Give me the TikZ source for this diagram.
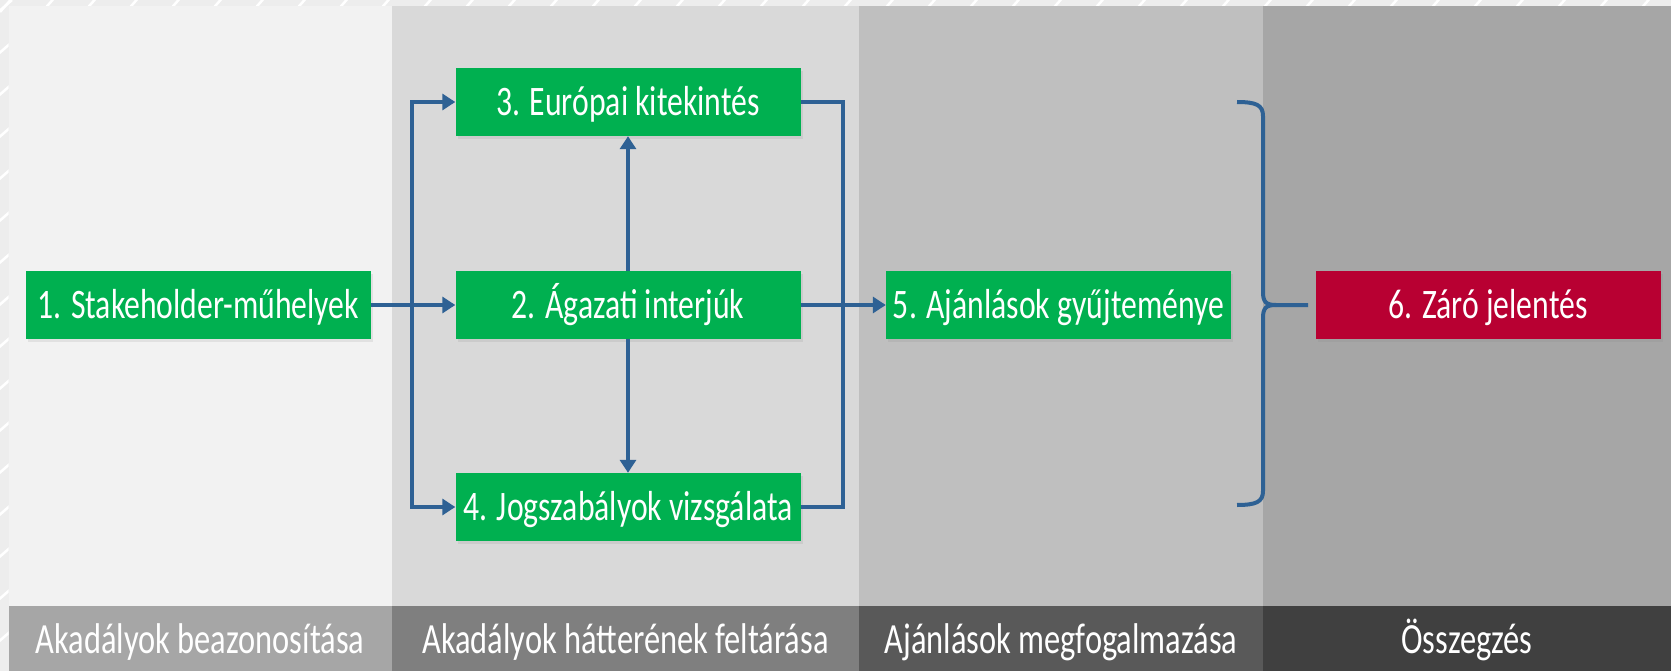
\documentclass[tikz,border=0pt]{standalone}
\usepackage{fontspec}
\setmainfont{Carlito}[FakeStretch=0.755]
\usetikzlibrary{arrows.meta,shadows}
\definecolor{bgout}{HTML}{EDEDED}
\definecolor{pA}{HTML}{F2F2F2}
\definecolor{pB}{HTML}{D9D9D9}
\definecolor{pC}{HTML}{BFBFBF}
\definecolor{pD}{HTML}{A6A6A6}
\definecolor{bA}{HTML}{A6A6A6}
\definecolor{bB}{HTML}{7F7F7F}
\definecolor{bC}{HTML}{595959}
\definecolor{bD}{HTML}{404040}
\definecolor{gbox}{HTML}{00B050}
\definecolor{rbox}{HTML}{B80032}
\definecolor{conncol}{HTML}{2E6194}
\tikzset{
  stage/.style={fill=gbox, text=white, minimum width=345pt, minimum height=68pt, inner sep=0pt,
    font=\fontsize{42}{50}\selectfont, text height=26.5pt, text depth=0pt,
    drop shadow={opacity=0.15, shadow xshift=2pt, shadow yshift=-3pt}},
  final/.style={stage, fill=rbox},
  barlabel/.style={text=white, font=\fontsize{43}{50}\selectfont, inner sep=0pt,
    text height=27pt, text depth=0pt},
  conn/.style={draw=conncol, line width=4pt},
  arr/.style={conn, -{Triangle[length=13pt,width=16pt]}}
}
\begin{document}
\begin{tikzpicture}[x=1pt,y=-1pt]
\useasboundingbox (0,0) rectangle (1671,671);
% outer hatched border
\fill[bgout] (0,0) rectangle (1671,671);
\begin{scope}
  \clip (0,0) rectangle (1671,6) (0,0) rectangle (8.5,671);
  \foreach \i in {0,42,...,1700} \draw[white, line width=2.5pt] (\i,12) -- (\i+14,-4);
  \foreach \j in {0,42,...,700} \draw[white, line width=2.5pt] (-4,\j+14) -- (12,\j);
\end{scope}
% panels
\fill[pA] (8.5,6) rectangle (392,606);
\fill[pB] (392,6) rectangle (859,606);
\fill[pC] (859,6) rectangle (1263,606);
\fill[pD] (1263,6) rectangle (1671,606);
% bottom bars
\fill[bA] (8.5,606) rectangle (392,671);
\fill[bB] (392,606) rectangle (859,671);
\fill[bC] (859,606) rectangle (1263,671);
\fill[bD] (1263,606) rectangle (1671,671);
\node[barlabel] (l1) at (200,639.6) {Akadályok beazonosítása};
\node[barlabel] (l2) at (625.5,639.6) {Akadályok hátterének feltárása};
\node[barlabel] (l3) at (1061,639.6) {Ajánlások megfogalmazása};
\node[barlabel] (l4) at (1467,639.6) {Összegzés};
% boxes
\node[stage] (b1) at (198.3,305) {1. Stakeholder-műhelyek};
\node[stage] (b2) at (628,305) {2. Ágazati interjúk};
\node[stage] (b3) at (628,102) {3. Európai kitekintés};
\node[stage] (b4) at (628,507) {4. Jogszabályok vizsgálata};
\node[stage] (b5) at (1058.5,305) {5. Ajánlások gyűjteménye};
\node[final] (b6) at (1488,305) {6. Záró jelentés};
% connectors
\coordinate (sx) at (412,0);
\coordinate (rx) at (843,0);
\draw[arr] (b1.east) -- (b2.west);
\draw[arr] (sx |- b4.west) |- (b3.west);
\draw[arr] (sx |- b3.west) |- (b4.west);
\draw[arr] (b2.north) -- (b3.south);
\draw[arr] (b2.south) -- (b4.north);
\draw[conn] (b3.east) -| (rx |- b4.east) -- (b4.east);
\draw[arr] (b2.east) -- (b5.west);
% brace
\coordinate (brt) at (1237,102);
\coordinate (brb) at (1237,505);
\coordinate (brtip) at (1308,305);
\draw[conn, line join=round] (brt) .. controls (1256,102) and (1263,105) .. (1263,116)
  -- (1263,292) .. controls (1263,302) and (1266,305) .. (1276,305) -- (brtip);
\draw[conn, line join=round] (1276,305) .. controls (1266,305) and (1263,308) .. (1263,318)
  -- (1263,491) .. controls (1263,502) and (1256,505) .. (brb);
\end{tikzpicture}
\end{document}
